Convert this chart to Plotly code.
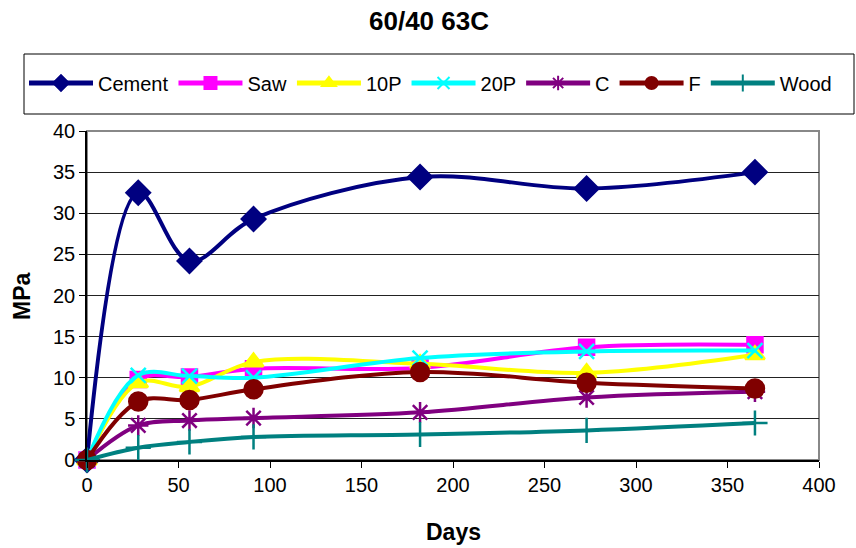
import plotly.graph_objects as go

# Curing age (days) and compressive strength (MPa) per mix
days = [0, 28, 56, 91, 182, 273, 365]
cement = [0, 32.5, 24.2, 29.3, 34.4, 33.0, 35.0]
saw = [0, 9.8, 10.1, 11.1, 11.2, 13.7, 14.0]
p10 = [0, 9.4, 8.9, 11.9, 11.7, 10.6, 12.8]
p20 = [0, 10.3, 10.2, 10.0, 12.4, 13.2, 13.3]
c_mix = [0, 4.2, 4.8, 5.1, 5.8, 7.6, 8.3]
f_mix = [0, 7.1, 7.3, 8.6, 10.7, 9.4, 8.7]
wood = [0, 1.5, 2.2, 2.8, 3.1, 3.6, 4.5]

series = [
    ("Cement", cement, "#000080", "diamond", 18),
    ("Saw", saw, "#FF00FF", "square", 15),
    ("10P", p10, "#FFFF00", "triangle-up", 17),
    ("20P", p20, "#00FFFF", "x-thin-open", 15),
    ("C", c_mix, "#800080", "asterisk-open", 17),
    ("F", f_mix, "#800000", "circle", 18),
    ("Wood", wood, "#008080", "cross-thin-open", 18),
]

FONT = "Arial, Liberation Sans, sans-serif"

fig = go.Figure()
for name, vals, color, sym, size in series:
    fig.add_trace(go.Scatter(
        x=days, y=vals, name=name, mode="lines+markers",
        cliponaxis=False,
        line=dict(color=color, width=4, shape="spline", smoothing=1.0),
        marker=dict(symbol=sym, size=size, color=color,
                    line=dict(color=color, width=2.5)),
    ))

# page geometry in pixels
W, H = 856, 548
L, R, T, B = 87, 819, 131, 460
pw, ph = R - L, B - T


def px(xp):
    return (xp - L) / pw


def py(yp):
    return (B - yp) / ph


fig.update_layout(
    width=W, height=H,
    margin=dict(l=L, r=W - R, t=T, b=H - B, pad=0),
    paper_bgcolor="white", plot_bgcolor="white",
    font=dict(family=FONT, size=20, color="black"),
    title=dict(text="<b>60/40 63C</b>", x=429 / W, xanchor="center",
               y=1 - 21 / H, yanchor="middle",
               font=dict(family=FONT, size=26, color="black")),
    showlegend=True,
    legend=dict(orientation="h", x=px(24), xanchor="left",
                y=py(83), yanchor="middle",
                bgcolor="rgba(0,0,0,0)", borderwidth=0,
                font=dict(family=FONT, size=20, color="black"),
                itemwidth=64, itemsizing="constant"),
    xaxis=dict(range=[0, 400], tickvals=list(range(0, 401, 50)),
               showgrid=False, zeroline=False,
               showline=True, linecolor="black", linewidth=1.5,
               ticks="outside", ticklen=6, tickcolor="black",
               tickfont=dict(family=FONT, size=20)),
    yaxis=dict(range=[0, 40], tickvals=list(range(0, 41, 5)),
               showgrid=True, gridcolor="#222222", gridwidth=1,
               zeroline=False,
               showline=True, linecolor="black", linewidth=1.5,
               ticks="outside", ticklen=6, tickcolor="black",
               tickfont=dict(family=FONT, size=20)),
    shapes=[
        # plot-area frame
        dict(type="rect", xref="paper", yref="paper", x0=0, x1=1, y0=0, y1=1,
             line=dict(color="#888888", width=2), layer="below"),
        # legend frame
        dict(type="rect", xref="paper", yref="paper",
             x0=px(24), x1=px(854), y0=py(114), y1=py(54),
             line=dict(color="black", width=1), fillcolor="white",
             layer="below"),
    ],
    annotations=[
        dict(text="<b>Days</b>", xref="paper", yref="paper",
             x=px(453), y=py(532), xanchor="center", yanchor="middle",
             showarrow=False, font=dict(family=FONT, size=23)),
        dict(text="<b>MPa</b>", xref="paper", yref="paper",
             x=px(22), y=py(296), xanchor="center", yanchor="middle",
             textangle=-90, showarrow=False, font=dict(family=FONT, size=23)),
    ],
)

fig.write_html("out.html")
